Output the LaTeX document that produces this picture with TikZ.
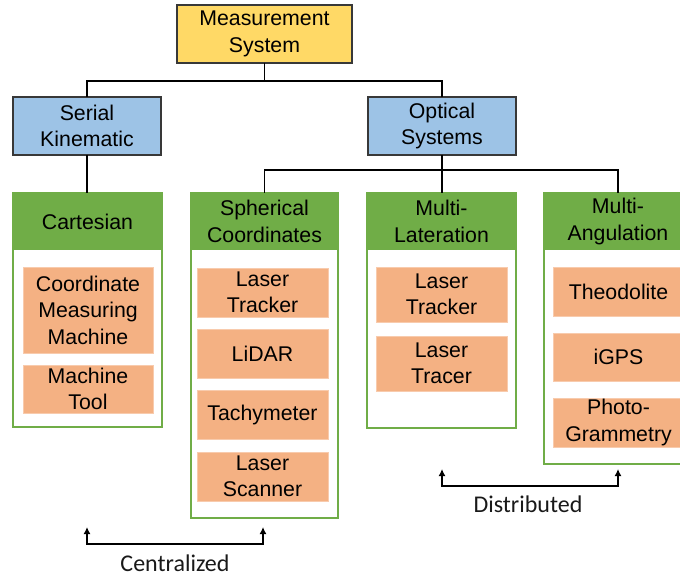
\documentclass[tikz,border=0pt]{standalone}
\usepackage{fontspec}
\setmainfont{Liberation Sans}
\newfontfamily\calibfont{Carlito}
\usetikzlibrary{arrows.meta}
\definecolor{myYellow}{HTML}{FFD966}
\definecolor{myBlue}{HTML}{9DC3E6}
\definecolor{myGreen}{HTML}{70AD47}
\definecolor{myOrange}{HTML}{F4B183}
\definecolor{myOrangeLine}{HTML}{F8CBAD}
\newcommand\mybox[7]{\node[#1, minimum width={#5-#3}, minimum height={#6-#4}] (#2) at ({(#3+#5)/2},{(#4+#6)/2}) {#7};}
\begin{document}
\begin{tikzpicture}[x=1pt,y=-1pt,
  box/.style={inner sep=0pt, outer sep=0pt, align=center, font=\fontsize{21.3}{26.5}\selectfont, text=black},
  topbox/.style={box, draw=black!78, line width=1.3pt},
  ybox/.style={topbox, fill=myYellow},
  bbox/.style={topbox, fill=myBlue},
  hdr/.style={box, fill=myGreen},
  cont/.style={box, draw=myGreen, line width=2pt},
  item/.style={box, fill=myOrange, draw=myOrangeLine, line width=0.6pt},
  conn/.style={draw=black, line width=1.8pt},
  arr/.style={draw=black, line width=1.8pt, {Latex[length=7pt,width=7pt]}-{Latex[length=7pt,width=7pt]}},
  lbl/.style={inner sep=0pt, font=\calibfont\fontsize{24}{28}\selectfont, text=black!90}]
\useasboundingbox (0,0) rectangle (680,577);
\clip (0,0) rectangle (680,577);
% top levels
\mybox{ybox}{ms}{177}{5}{352}{63}{Measurement\\System}
\mybox{bbox}{sk}{13}{97}{161}{155}{Serial\\Kinematic}
\mybox{bbox}{os}{368}{97}{516}{155}{Optical\\Systems}
% containers: headers
\mybox{hdr}{carth}{13}{193}{162}{250}{Cartesian}
\mybox{hdr}{sphh}{191}{193}{338}{250}{Spherical\\Coordinates}
\mybox{hdr}{mlath}{367}{193}{516}{250}{Multi-\\Lateration}
\mybox{hdr}{mangh}{544}{193}{692}{250}{Multi-\\Angulation}
% containers: outlines
\mybox{cont}{cart}{13}{193}{162}{427}{}
\mybox{cont}{sph}{191}{193}{338}{518}{}
\mybox{cont}{mlat}{367}{193}{516}{428}{}
\mybox{cont}{mang}{544}{193}{692}{464}{}
% items
\mybox{item}{cmm}{23}{267}{153}{353}{Coordinate\\Measuring\\Machine}
\mybox{item}{mt}{23}{365}{153}{413}{Machine\\Tool}
\mybox{item}{lt}{197}{268}{328}{317}{Laser\\Tracker}
\mybox{item}{lidar}{197}{329}{328}{378}{LiDAR}
\mybox{item}{tachy}{197}{390}{328}{439}{Tachymeter}
\mybox{item}{ls}{197}{452}{328}{501}{Laser\\Scanner}
\mybox{item}{ltb}{376}{267}{507}{322}{Laser\\Tracker}
\mybox{item}{tracer}{376}{336}{507}{391}{Laser\\Tracer}
\mybox{item}{theo}{553}{267}{684}{316}{Theodolite}
\mybox{item}{igps}{553}{333}{684}{381}{iGPS}
\mybox{item}{photo}{553}{398}{684}{447}{Photo-\\Grammetry}
% connectors
\draw[conn] (ms.south) -- ++(0,18) -| (sk.north);
\draw[conn] (ms.south) -- ++(0,18) -| (os.north);
\draw[conn] (sk.south) -- (sk.south |- carth.north);
\draw[conn] (os.south) -- ++(0,15) -| (sphh.north);
\draw[conn] (os.south) -- (os.south |- mlath.north);
\draw[conn] (os.south) -- ++(0,15) -| (mangh.north);
% centralized / distributed
\coordinate (c1) at (87,527);
\coordinate (c2) at (263,527);
\coordinate (d1) at (442,469);
\coordinate (d2) at (618,469);
\draw[arr] (c1) -- ++(0,17) -| (c2);
\draw[arr] (d1) -- ++(0,17) -| (d2);
\node[lbl] (cen) at (175,563) {Centralized};
\node[lbl] (dis) at (528,504) {Distributed};
\end{tikzpicture}
\end{document}
